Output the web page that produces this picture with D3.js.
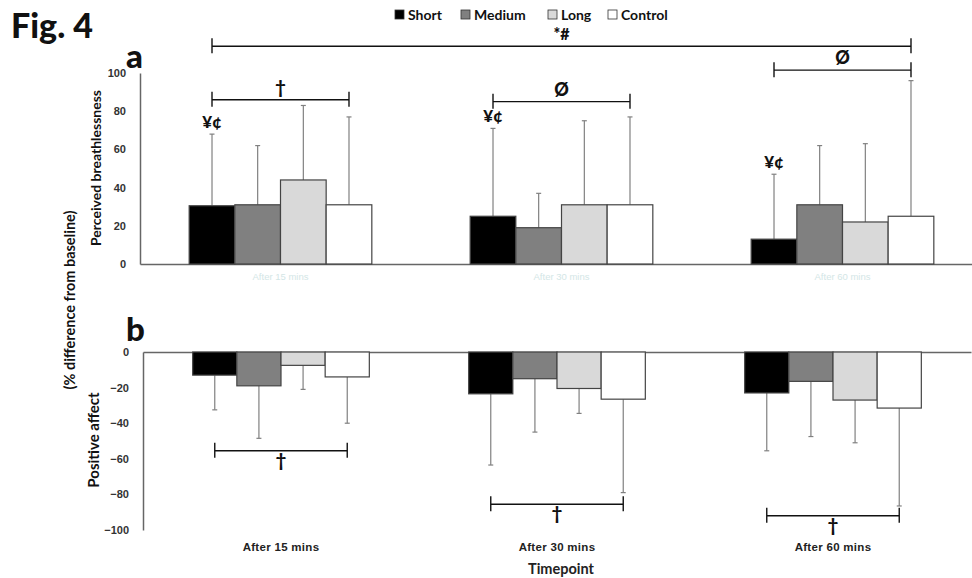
<!doctype html>
<html lang="en">
<head>
    <meta charset="UTF-8">
    <title>Fig. 4</title>
    <style>
        body { margin: 0; background: #fff; }
        svg { display: block; font-family: Lato, "Open Sans", sans-serif; }
        .tick text { font-weight: bold; fill: #333; }
        .bar { stroke: #444; stroke-width: 1.2px; }
        .err { stroke: #808080; stroke-width: 1.2px; }
        .brk { stroke: #111; stroke-width: 1.4px; fill: none; }
        .note { font-weight: 900; fill: #111; }
    </style>
</head>
<body>
    <svg width="972" height="578"></svg>
    <script src="https://cdn.jsdelivr.net/npm/d3@7/dist/d3.min.js"></script>
    <script>
        // categories and series
        const groups = ["After 15 mins", "After 30 mins", "After 60 mins"];
        const series = ["Short", "Medium", "Long", "Control"];
        const colors = ["#000000", "#808080", "#d9d9d9", "#ffffff"];

        // panel a: perceived breathlessness (% difference from baseline), mean and SD
        const breathMean = [[30.5, 31, 44, 31], [25, 19, 31, 31], [13, 31, 22, 25]];
        const breathSD   = [[37.5, 31, 39, 46], [46, 18, 44, 46], [34, 31, 41, 71]];

        // panel b: positive affect (% difference from baseline), mean and SD
        const affectMean = [[-13, -19, -7.5, -14], [-23.5, -15, -20.5, -26.5], [-23, -16.5, -27, -31.5]];
        const affectSD   = [[19.5, 29.5, 13.5, 26], [40, 30, 14, 52.5], [32.5, 31, 24, 55]];

        const breathTicks = [0, 20, 40, 60, 80, 100];
        const affectTicks = [0, -20, -40, -60, -80, -100];

        // significance brackets: from group/series to group/series, level in axis units
        const breathBrackets = [
            {g0: 0, s0: 0, g1: 2, s1: 3, v: 114, label: "*#"},
            {g0: 0, s0: 0, g1: 0, s1: 3, v: 86, label: "\u2020"},
            {g0: 1, s0: 0, g1: 1, s1: 3, v: 85, label: "\u00d8"},
            {g0: 2, s0: 0, g1: 2, s1: 3, v: 101.5, label: "\u00d8"}
        ];
        const affectBrackets = [
            {g0: 0, s0: 0, g1: 0, s1: 3, v: -55.5, label: "\u2020"},
            {g0: 1, s0: 0, g1: 1, s1: 3, v: -85.5, label: "\u2020"},
            {g0: 2, s0: 0, g1: 2, s1: 3, v: -92, label: "\u2020"}
        ];
        const shortMark = "\u00a5\u00a2";

        const svg = d3.select("svg");

        // ---------- panel a ----------
        const xa = d3.scaleBand().domain(groups).range([140, 983]).paddingInner(0.35).paddingOuter(0.175);
        const xa1 = d3.scaleBand().domain(series).range([0, xa.bandwidth()]);
        const ya = d3.scaleLinear().domain([0, 100]).range([264, 73]);

        const ga = svg.append("g");

        ga.append("g")
            .attr("transform", "translate(140,0)")
            .call(d3.axisLeft(ya).tickValues(breathTicks).tickSize(0).tickPadding(14))
            .call(g => g.select(".domain").attr("stroke", "#666").attr("stroke-width", 1.5))
            .call(g => g.selectAll("text").attr("font-size", 11));

        ga.append("g")
            .attr("transform", "translate(0,264)")
            .call(d3.axisBottom(xa).tickSize(0).tickPadding(9))
            .call(g => g.select(".domain").attr("stroke", "#666").attr("stroke-width", 1.5))
            .call(g => g.selectAll("text").attr("font-size", 9.5).style("fill", "#d3e6e6").style("font-weight", "normal"));

        drawBars(ga, breathMean, breathSD, xa, xa1, ya, 1);
        drawBrackets(ga, breathBrackets, xa, xa1, ya, -1);

        // ¥¢ above the Short error bar of each group
        ga.selectAll("text.mark").data(groups).join("text")
            .attr("class", "note mark")
            .attr("x", (d, i) => xa(d) + xa1("Short") + xa1.bandwidth() / 2)
            .attr("y", (d, i) => ya(breathMean[i][0] + breathSD[i][0]) - 6)
            .attr("text-anchor", "middle")
            .attr("font-size", 17)
            .text(shortMark);

        // ---------- panel b ----------
        const xb = d3.scaleBand().domain(groups).range([143, 971]).paddingInner(0.36).paddingOuter(0.18);
        const xb1 = d3.scaleBand().domain(series).range([0, xb.bandwidth()]);
        const yb = d3.scaleLinear().domain([-100, 0]).range([530, 352]);

        const gb = svg.append("g");

        gb.append("g")
            .attr("transform", "translate(143,0)")
            .call(d3.axisLeft(yb).tickValues(affectTicks).tickSize(0).tickPadding(14))
            .call(g => g.select(".domain").attr("stroke", "#666").attr("stroke-width", 1.5))
            .call(g => g.selectAll("text").attr("font-size", 11));

        gb.append("g")
            .attr("transform", "translate(0,352)")
            .call(d3.axisTop(xb).tickSize(0).tickFormat(""))
            .call(g => g.select(".domain").attr("stroke", "#666").attr("stroke-width", 1.5));

        gb.append("g")
            .attr("transform", "translate(0,530)")
            .call(d3.axisBottom(xb).tickSize(0).tickPadding(13))
            .call(g => g.select(".domain").remove())
            .call(g => g.selectAll("text").attr("font-size", 11.5).style("letter-spacing", "0.3px").style("fill", "#222"));

        drawBars(gb, affectMean, affectSD, xb, xb1, yb, -1);
        drawBrackets(gb, affectBrackets, xb, xb1, yb, 1);

        // ---------- text ----------
        svg.append("text").attr("x", 11).attr("y", 38)
            .attr("font-size", 34).attr("font-weight", 900).attr("fill", "#111").text("Fig. 4");
        svg.append("text").attr("x", 126).attr("y", 68)
            .attr("font-size", 33).attr("font-weight", 900).attr("fill", "#111").text("a");
        svg.append("text").attr("x", 126).attr("y", 341)
            .attr("font-size", 33).attr("font-weight", 900).attr("fill", "#111").text("b");

        const yLabel = (x, y, t, s) => svg.append("text")
            .attr("transform", `translate(${x},${y}) rotate(-90)`)
            .attr("text-anchor", "middle")
            .attr("font-size", s).attr("font-weight", "bold").attr("fill", "#111")
            .text(t);
        yLabel(101, 168, "Perceived breathlessness", 14);
        yLabel(75, 300, "(% difference from baseline)", 14.5);
        yLabel(99, 440, "Positive affect", 15);

        svg.append("text").attr("x", 561).attr("y", 574).attr("text-anchor", "middle")
            .attr("font-size", 14.5).attr("font-weight", "bold").attr("fill", "#222").text("Timepoint");

        // legend
        const legX = [395, 461, 548, 608];
        const leg = svg.append("g").selectAll("g").data(series).join("g")
            .attr("transform", (d, i) => `translate(${legX[i]},10)`);
        leg.append("rect").attr("width", 9).attr("height", 9)
            .attr("fill", (d, i) => colors[i]).attr("stroke", "#333").attr("stroke-width", 0.8);
        leg.append("text").attr("x", 13).attr("y", 9.5)
            .attr("font-size", 14).attr("font-weight", "bold").attr("fill", "#111").text(d => d);

        function drawBars(g, means, sds, x0, x1, y, dir) {
            const flat = [];
            means.forEach((row, i) => row.forEach((v, j) => flat.push({g: groups[i], s: series[j], j, v, sd: sds[i][j]})));
            const cx = d => x0(d.g) + x1(d.s) + x1.bandwidth() / 2;

            g.append("g").selectAll("line").data(flat).join("line")
                .attr("class", "err")
                .attr("x1", cx).attr("x2", cx)
                .attr("y1", d => y(d.v)).attr("y2", d => y(d.v + dir * d.sd));
            g.append("g").selectAll("line").data(flat).join("line")
                .attr("class", "err")
                .attr("x1", d => cx(d) - 2.5).attr("x2", d => cx(d) + 2.5)
                .attr("y1", d => y(d.v + dir * d.sd)).attr("y2", d => y(d.v + dir * d.sd));

            g.append("g").selectAll("rect").data(flat).join("rect")
                .attr("class", "bar")
                .attr("x", d => x0(d.g) + x1(d.s))
                .attr("width", x1.bandwidth())
                .attr("y", d => Math.min(y(d.v), y(0)))
                .attr("height", d => Math.abs(y(d.v) - y(0)))
                .attr("fill", d => colors[d.j]);
        }

        function drawBrackets(g, list, x0, x1, y, side) {
            const cx = (gi, si) => x0(groups[gi]) + x1(series[si]) + x1.bandwidth() / 2;
            const b = g.append("g").selectAll("g").data(list).join("g");
            b.append("path")
                .attr("class", "brk")
                .attr("d", d => {
                    const a = cx(d.g0, d.s0), c = cx(d.g1, d.s1), yy = y(d.v);
                    return `M${a},${yy - 8}V${yy + 7}M${a},${yy}H${c}M${c},${yy - 8}V${yy + 7}`;
                });
            b.append("text")
                .attr("class", "note")
                .attr("x", d => (cx(d.g0, d.s0) + cx(d.g1, d.s1)) / 2)
                .attr("y", d => y(d.v) + (side < 0 ? -6 : 16))
                .attr("text-anchor", "middle")
                .attr("font-size", d => d.label === "*#" ? 16 : 18)
                .text(d => d.label);
        }
    </script>
</body>
</html>
